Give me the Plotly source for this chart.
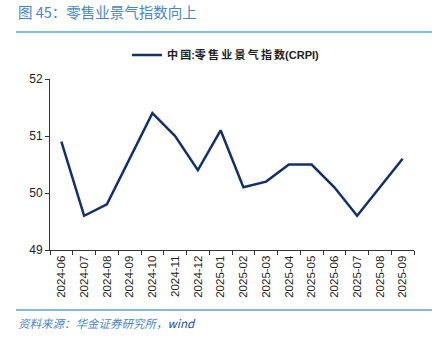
import plotly.graph_objects as go

months = ["2024-06","2024-07","2024-08","2024-09","2024-10","2024-11","2024-12",
          "2025-01","2025-02","2025-03","2025-04","2025-05","2025-06","2025-07",
          "2025-08","2025-09"]
crpi = [50.9, 49.6, 49.8, 50.6, 51.4, 51.0, 50.4, 51.1, 50.1, 50.2, 50.5, 50.5,
        50.1, 49.6, 50.1, 50.6]
series_name = "<b>中\u2009国:零\u2009售\u2009业\u2009景\u2009气\u2009指\u2009数(CRPI)</b>"
y_ticks = [49, 50, 51, 52]

W, H = 444, 341
L, R, T, B = 50, 30, 79, 91
PW, PH = W - L - R, H - T - B

fig = go.Figure()
fig.add_trace(go.Scatter(x=months, y=crpi, mode="lines", name=series_name,
                         line=dict(color="#13306b", width=2.5)))

fig.update_layout(
    width=W, height=H,
    margin=dict(l=L, r=R, t=T, b=B, pad=0),
    paper_bgcolor="white", plot_bgcolor="white",
    font=dict(family="Liberation Sans, Arial, Noto Sans CJK SC", size=11, color="#222222"),
    showlegend=True,
    legend=dict(orientation="h", x=(226 - L) / PW, xanchor="center",
                y=1 + (T - 55) / PH, yanchor="middle",
                font=dict(size=11, color="#222222", family="Liberation Sans, Noto Sans CJK SC"),
                bgcolor="rgba(0,0,0,0)"),
    xaxis=dict(type="category", range=[-0.5, len(months)-0.5], tickangle=-90,
               showline=True, linecolor="#333333", linewidth=1,
               ticks="outside", ticklen=4, tickcolor="#333333", tickson="boundaries",
               showgrid=False, tickfont=dict(size=11.5, color="#222222")),
    yaxis=dict(range=[49, 52], tickvals=y_ticks, showline=True, linecolor="#333333",
               linewidth=1, ticks="outside", ticklen=4, tickcolor="#333333",
               showgrid=False, zeroline=False, tickfont=dict(size=12, color="#222222")),
)

fig.add_annotation(text="图 45：零售业景气指数向上", xref="paper", yref="paper",
                   x=-(L - 16) / PW, y=1 + (T - 11) / PH,
                   xanchor="left", yanchor="middle", showarrow=False,
                   font=dict(size=14.5, color="#4a85c8", family="Noto Sans CJK SC"))
fig.add_annotation(text="<i>资料来源：华金证券研究所，</i><i><span style='color:#1d48a8'>wind</span></i>",
                   xref="paper", yref="paper",
                   x=-(L - 16) / PW, y=-(323 - (H - B)) / PH,
                   xanchor="left", yanchor="middle", showarrow=False,
                   font=dict(size=11.5, color="#4a85c8", family="Noto Sans CJK SC"))

for yy in [32, 310]:
    fig.add_shape(type="line", xref="paper", yref="paper",
                  x0=-(L - 16) / PW, x1=1 + (432 - (W - R)) / PW,
                  y0=1 - (yy - T) / PH, y1=1 - (yy - T) / PH,
                  line=dict(color="#5aa3dc", width=1.5))

fig.write_html("out.html")
